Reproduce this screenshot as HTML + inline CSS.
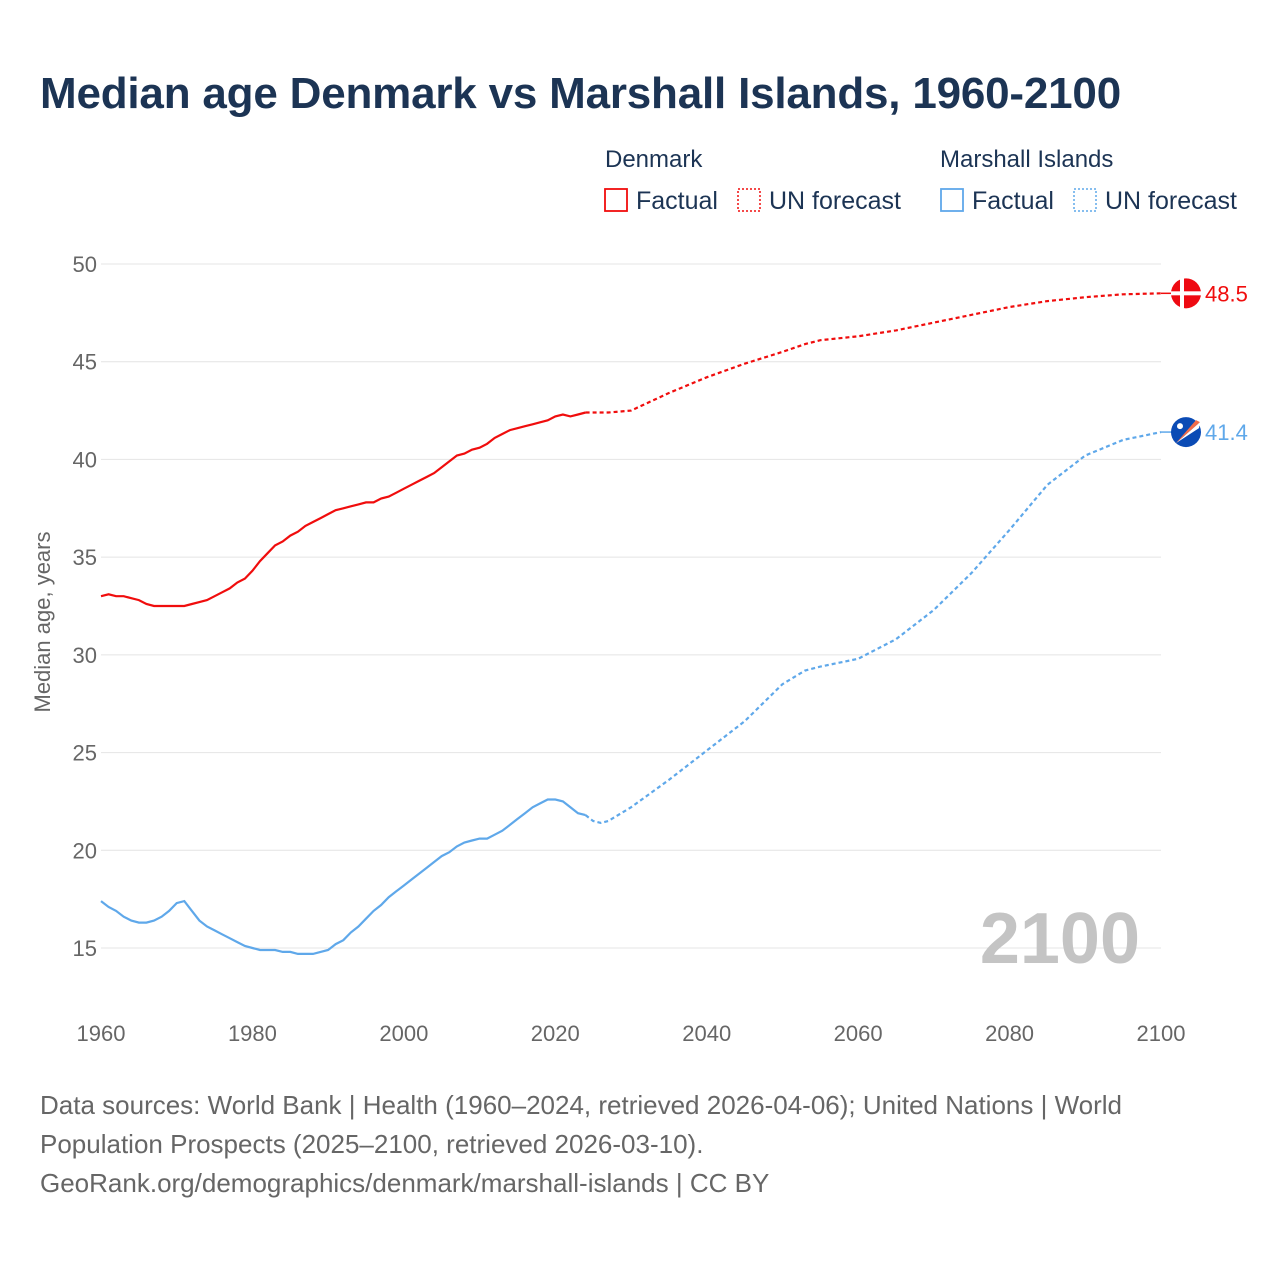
<!DOCTYPE html>
<html><head><meta charset="utf-8"><style>
body{margin:0;background:#fff;font-family:"Liberation Sans",sans-serif;}
#wrap{position:relative;width:1280px;height:1280px;overflow:hidden;}
.t{position:absolute;white-space:nowrap;}
</style></head><body>
<div id="wrap">
<div class="t" style="left:40px;top:69px;font-size:44px;font-weight:bold;color:#1c3454;letter-spacing:-0.2px;">Median age Denmark vs Marshall Islands, 1960-2100</div>
<svg id="c" width="1280" height="1280" style="position:absolute;left:0;top:0"></svg>
<div class="t" style="left:40px;top:1086px;font-size:26px;line-height:39px;color:#666;">Data sources: World Bank | Health (1960–2024, retrieved 2026-04-06); United Nations | World<br>Population Prospects (2025–2100, retrieved 2026-03-10).<br>GeoRank.org/demographics/denmark/marshall-islands | CC BY</div>
</div>
<script>
const dkYears=[1960,1961,1962,1963,1964,1965,1966,1967,1968,1969,1970,1971,1972,1973,1974,1975,1976,1977,1978,1979,1980,1981,1982,1983,1984,1985,1986,1987,1988,1989,1990,1991,1992,1993,1994,1995,1996,1997,1998,1999,2000,2001,2002,2003,2004,2005,2006,2007,2008,2009,2010,2011,2012,2013,2014,2015,2016,2017,2018,2019,2020,2021,2022,2023,2024];
const dkFact=[33.0,33.1,33.0,33.0,32.9,32.8,32.6,32.5,32.5,32.5,32.5,32.5,32.6,32.7,32.8,33.0,33.2,33.4,33.7,33.9,34.3,34.8,35.2,35.6,35.8,36.1,36.3,36.6,36.8,37.0,37.2,37.4,37.5,37.6,37.7,37.8,37.8,38.0,38.1,38.3,38.5,38.7,38.9,39.1,39.3,39.6,39.9,40.2,40.3,40.5,40.6,40.8,41.1,41.3,41.5,41.6,41.7,41.8,41.9,42.0,42.2,42.3,42.2,42.3,42.4];
const miFact=[17.4,17.1,16.9,16.6,16.4,16.3,16.3,16.4,16.6,16.9,17.3,17.4,16.9,16.4,16.1,15.9,15.7,15.5,15.3,15.1,15.0,14.9,14.9,14.9,14.8,14.8,14.7,14.7,14.7,14.8,14.9,15.2,15.4,15.8,16.1,16.5,16.9,17.2,17.6,17.9,18.2,18.5,18.8,19.1,19.4,19.7,19.9,20.2,20.4,20.5,20.6,20.6,20.8,21.0,21.3,21.6,21.9,22.2,22.4,22.6,22.6,22.5,22.2,21.9,21.8];
const fcYears=[2024,2025,2026,2027,2030,2035,2040,2045,2050,2053,2055,2060,2065,2070,2075,2080,2085,2090,2095,2100];
const dkFc=[42.4,42.4,42.4,42.4,42.5,43.4,44.2,44.9,45.5,45.9,46.1,46.3,46.6,47.0,47.4,47.8,48.1,48.3,48.45,48.5];
const miFc=[21.8,21.5,21.4,21.5,22.2,23.6,25.1,26.6,28.5,29.2,29.4,29.8,30.8,32.3,34.2,36.4,38.7,40.2,41.0,41.4];
const yTicks=[15,20,25,30,35,40,45,50];
const xTicks=[1960,1980,2000,2020,2040,2060,2080,2100];
const NS='http://www.w3.org/2000/svg';
const svg=document.getElementById('c');
const X=y=>101+(y-1960)*(1060/140);
const Y=v=>948-(v-15)*(684/35);
function mk(tag,attrs,parent){const e=document.createElementNS(NS,tag);for(const k in attrs)e.setAttribute(k,attrs[k]);(parent||svg).appendChild(e);return e;}
yTicks.forEach(v=>{
  const l=mk('line',{x1:101,x2:1161,y1:Y(v),y2:Y(v),stroke:'#e4e4e4','stroke-width':1});
  
  
  const t=mk('text',{x:97,y:Y(v)+8,'text-anchor':'end','font-size':22,fill:'#666','font-family':'Liberation Sans'});
  t.textContent=v;
  
  
});
xTicks.forEach(v=>{
  const t=mk('text',{x:X(v),y:1041,'text-anchor':'middle','font-size':22,fill:'#666','font-family':'Liberation Sans'});
  t.textContent=v;
  
  
});
const yt=mk('text',{x:0,y:0,transform:'translate(50,622) rotate(-90)','text-anchor':'middle','font-size':22,fill:'#666','font-family':'Liberation Sans'});
yt.textContent='Median age, years';


const yr=mk('text',{x:1140,y:963,'text-anchor':'end','font-size':72,'font-weight':'bold',fill:'#c4c4c4','font-family':'Liberation Sans'});
yr.textContent='2100';


function line(xs,vs,color,dash,name){
  const d=xs.map((x,i)=>(i?'L':'M')+X(x).toFixed(1)+','+Y(vs[i]).toFixed(1)).join('');
  const p=mk('path',{d:d,fill:'none',stroke:color,'stroke-width':2.2});
  if(dash)p.setAttribute('stroke-dasharray','4,3');
  
  
}
line(dkYears,dkFact,'#f00d0d',false,'denmark-factual-line');
line(fcYears,dkFc,'#f00d0d',true,'denmark-forecast-line');
line(dkYears,miFact,'#5fa8ea',false,'marshall-factual-line');
line(fcYears,miFc,'#5fa8ea',true,'marshall-forecast-line');
const dkY=Y(dkFc[dkFc.length-1]), miY=Y(miFc[miFc.length-1]);
const dl=mk('line',{x1:1161,x2:1172,y1:dkY,y2:dkY,stroke:'#f00d0d','stroke-width':1.5});


const g1=mk('g',{});


mk('circle',{cx:1186,cy:dkY,r:15,fill:'#ee0a12'},g1);
mk('rect',{x:1180,y:dkY-15,width:4,height:30,fill:'#fff'},g1);
mk('rect',{x:1171,y:dkY-2,width:30,height:4,fill:'#fff'},g1);
const ml=mk('line',{x1:1161,x2:1172,y1:miY,y2:miY,stroke:'#5fa8ea','stroke-width':1.5});


const g2=mk('g',{});


mk('circle',{cx:1186,cy:miY,r:15,fill:'#0b4bb5'},g2);
mk('polygon',{points:`1176,${miY+11} 1200,${miY-10} 1199,${miY-4}`,fill:'#fff'},g2);
mk('polygon',{points:`1176,${miY+11} 1200,${miY-10} 1196,${miY-12}`,fill:'#f26d4a'},g2);
mk('circle',{cx:1180,cy:miY-6,r:3,fill:'#fff'},g2);
const dt=mk('text',{x:1205,y:dkY+8,'font-size':22,fill:'#f00d0d','font-family':'Liberation Sans'});
dt.textContent=dkFc[dkFc.length-1];


const mt=mk('text',{x:1205,y:miY+8,'font-size':22,fill:'#5fa8ea','font-family':'Liberation Sans'});
mt.textContent=miFc[miFc.length-1];


function legText(x,y,s,name){const t=mk('text',{x:x,y:y,'font-size':24,fill:'#1c3454','font-family':'Liberation Sans'});t.textContent=s;}
legText(605,167,'Denmark','legend-title-denmark');
legText(940,167,'Marshall Islands','legend-title-marshall');
function legBox(x,color,dash,label,name){
  const g=mk('g',{});
  
  
  const r=mk('rect',{x:x,y:189,width:22,height:22,fill:'none',stroke:color,'stroke-width':dash?1.5:1.8},g);
  if(dash)r.setAttribute('stroke-dasharray','2,2');
  const t=mk('text',{x:x+31,y:209,'font-size':25,fill:'#1c3454','font-family':'Liberation Sans'},g);
  t.textContent=label;
}
legBox(605,'#f00d0d',false,'Factual','legend-denmark-factual');
legBox(738,'#f00d0d',true,'UN forecast','legend-denmark-forecast');
legBox(941,'#5fa8ea',false,'Factual','legend-marshall-factual');
legBox(1074,'#5fa8ea',true,'UN forecast','legend-marshall-forecast');
</script>
</body></html>
